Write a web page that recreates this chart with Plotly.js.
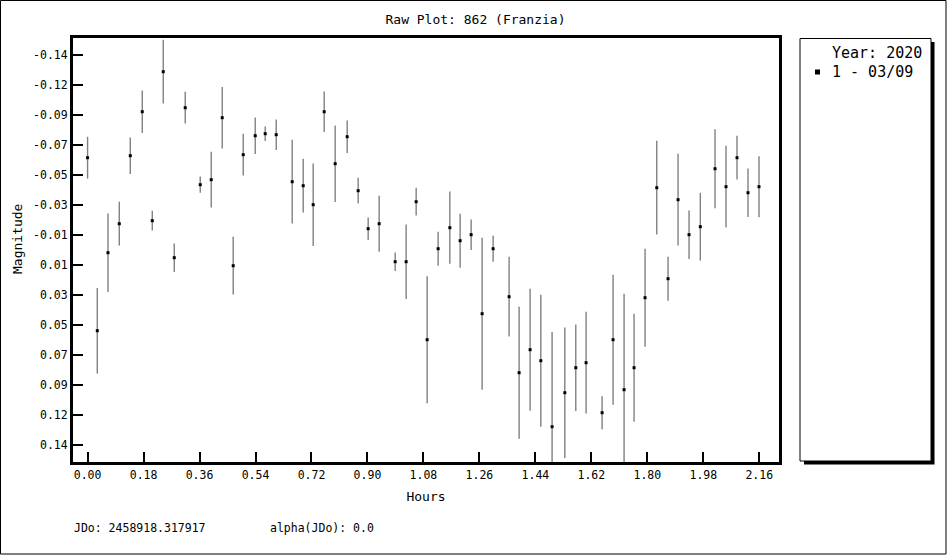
<!DOCTYPE html>
<html><head><meta charset="utf-8">
<script src="https://cdn.plot.ly/plotly-3.0.1.min.js"></script>
<style>html,body{margin:0;padding:0;background:#fff;overflow:hidden}#chart{width:951px;height:555px}</style>
</head><body><div id="chart"></div>
<script>
// Data
const hours = [0.000,0.0312,0.0656,0.1019,0.1373,0.1758,0.2080,0.2433,0.2787,0.3140,
  0.3623,0.3976,0.4330,0.4683,0.5005,0.5391,0.5712,0.6066,0.6580,0.6934,
  0.7255,0.7609,0.7962,0.8348,0.8701,0.9023,0.9376,0.9891,1.0244,1.0566,
  1.0919,1.1273,1.1649,1.1980,1.2334,1.2687,1.3041,1.3555,1.3877,1.4230,
  1.4574,1.4937,1.5346,1.5699,1.6030,1.6545,1.6898,1.7252,1.7573,1.7927,
  1.8303,1.8666,1.8988,1.9341,1.9704,2.0177,2.0530,2.0884,2.1237,2.1591];
const magnitude = [-0.0646,0.0565,0.0019,-0.0184,-0.0660,-0.0968,-0.0205,-0.1248,0.0054,-0.0996,
  -0.0457,-0.0492,-0.0926,0.0110,-0.0667,-0.0800,-0.0814,-0.0807,-0.0478,-0.0450,
  -0.0317,-0.0968,-0.0604,-0.0793,-0.0415,-0.0149,-0.0184,0.0082,0.0082,-0.0338,
  0.0628,-0.0009,-0.0156,-0.0065,-0.0107,0.0446,-0.0009,0.0327,0.0859,0.0698,
  0.0775,0.1237,0.0999,0.0824,0.0789,0.1139,0.0628,0.0978,0.0824,0.0334,
  -0.0436,0.0201,-0.0352,-0.0107,-0.0163,-0.0569,-0.0443,-0.0646,-0.0401,-0.0443];
const magError = [0.0146,0.0299,0.0275,0.0153,0.0128,0.0149,0.0069,0.0223,0.0100,0.0111,
  0.0057,0.0195,0.0215,0.0202,0.0146,0.0128,0.0051,0.0107,0.0293,0.0188,
  0.0289,0.0142,0.0268,0.0114,0.0090,0.0079,0.0196,0.0065,0.0261,0.0097,
  0.0444,0.0119,0.0253,0.0189,0.0107,0.0532,0.0091,0.0279,0.0462,0.0427,
  0.0462,0.0663,0.0457,0.0303,0.0356,0.0115,0.0455,0.0672,0.0378,0.0343,
  0.0328,0.0154,0.0321,0.0170,0.0237,0.0276,0.0286,0.0153,0.0170,0.0214];
const xTickVals = [0.00,0.18,0.36,0.54,0.72,0.90,1.08,1.26,1.44,1.62,1.80,1.98,2.16];
const xTickText = ['0.00','0.18','0.36','0.54','0.72','0.90','1.08','1.26','1.44','1.62','1.80','1.98','2.16'];
const yTickVals = [-0.1365,-0.1155,-0.0945,-0.0735,-0.0525,-0.0315,-0.0105,0.0105,0.0315,0.0525,0.0735,0.0945,0.1155,0.1365];
const yTickText = ['-0.14','-0.12','-0.09','-0.07','-0.05','-0.03','-0.01','0.01','0.03','0.05','0.07','0.09','0.12','0.14'];
const seriesName = '1 - 03/09';
const legendTitle = 'Year: 2020';
const chartTitle = 'Raw Plot: 862 (Franzia)';
const footerJDo = 'JDo: 2458918.317917';
const footerAlpha = 'alpha(JDo): 0.0';

// Layout geometry (pixels)
const W = 951, H = 555, L = 73, R = 779, T = 38, B = 462;
const px = x => (x - L) / (R - L);
const py = y => (B - y) / (B - T);
const FONT = 'DejaVu Sans Mono, monospace';

const trace = {
  type: 'scatter', mode: 'markers', name: seriesName, showlegend: false,
  x: hours, y: magnitude,
  marker: {symbol: 'square', size: 3, color: '#000', line: {width: 0}},
  error_y: {type: 'data', array: magError, visible: true, color: '#808080', thickness: 1.4, width: 0}
};

const layout = {
  width: W, height: H,
  margin: {l: L, r: W - R, t: T, b: H - B, pad: 0},
  paper_bgcolor: '#fff', plot_bgcolor: '#fff',
  font: {family: FONT, color: '#000'},
  title: {text: chartTitle, font: {family: FONT, size: 13, color: '#000'},
          x: 0.5, xref: 'container', y: 1 - 19 / H, yref: 'container', yanchor: 'middle'},
  xaxis: {
    range: [-0.0469, 2.2234], tickvals: xTickVals, ticktext: xTickText,
    ticks: 'inside', ticklen: 10, tickwidth: 2, tickcolor: '#000',
    showline: true, linewidth: 3, linecolor: '#000', mirror: true,
    showgrid: false, zeroline: false,
    tickfont: {family: FONT, size: 11.5, color: '#000'},
    title: {text: 'Hours', font: {family: FONT, size: 13, color: '#000'}, standoff: 12}
  },
  yaxis: {
    range: [0.1484, -0.1484], tickvals: yTickVals, ticktext: yTickText,
    ticks: 'inside', ticklen: 10, tickwidth: 2, tickcolor: '#000',
    showline: true, linewidth: 3, linecolor: '#000', mirror: true,
    showgrid: false, zeroline: false,
    tickfont: {family: FONT, size: 11.5, color: '#000'}
  },
  shapes: [
    {type: 'rect', xref: 'paper', yref: 'paper', x0: px(0.5), x1: px(946), y0: py(0.5), y1: py(554),
     line: {color: '#000', width: 1}, fillcolor: 'rgba(0,0,0,0)', layer: 'below'},
    {type: 'rect', xref: 'paper', yref: 'paper', x0: px(804), x1: px(934.5), y0: py(42), y1: py(464.5),
     line: {width: 0}, fillcolor: '#000', layer: 'above'},
    {type: 'rect', xref: 'paper', yref: 'paper', x0: px(800), x1: px(931), y0: py(38.5), y1: py(461),
     line: {color: '#000', width: 1}, fillcolor: '#fff', layer: 'above'},
    {type: 'rect', xref: 'paper', yref: 'paper', x0: px(815), x1: px(820), y0: py(69.5), y1: py(74.5),
     line: {width: 0}, fillcolor: '#000', layer: 'above'}
  ],
  annotations: [
    {text: 'Magnitude', xref: 'paper', yref: 'paper', x: px(17), y: py(239), textangle: -90,
     xanchor: 'center', yanchor: 'middle', showarrow: false, font: {family: FONT, size: 13, color: '#000'}},
    {text: legendTitle, xref: 'paper', yref: 'paper', x: px(830), y: py(53),
     xanchor: 'left', yanchor: 'middle', showarrow: false, font: {family: FONT, size: 15, color: '#000'}},
    {text: seriesName, xref: 'paper', yref: 'paper', x: px(830), y: py(72),
     xanchor: 'left', yanchor: 'middle', showarrow: false, font: {family: FONT, size: 15, color: '#000'}},
    {text: footerJDo, xref: 'paper', yref: 'paper', x: px(72), y: py(528),
     xanchor: 'left', yanchor: 'middle', showarrow: false, font: {family: FONT, size: 11.5, color: '#000'}},
    {text: footerAlpha, xref: 'paper', yref: 'paper', x: px(268), y: py(528),
     xanchor: 'left', yanchor: 'middle', showarrow: false, font: {family: FONT, size: 11.5, color: '#000'}}
  ]
};

Plotly.newPlot('chart', [trace], layout, {displayModeBar: false, staticPlot: true});
</script>
</body></html>
